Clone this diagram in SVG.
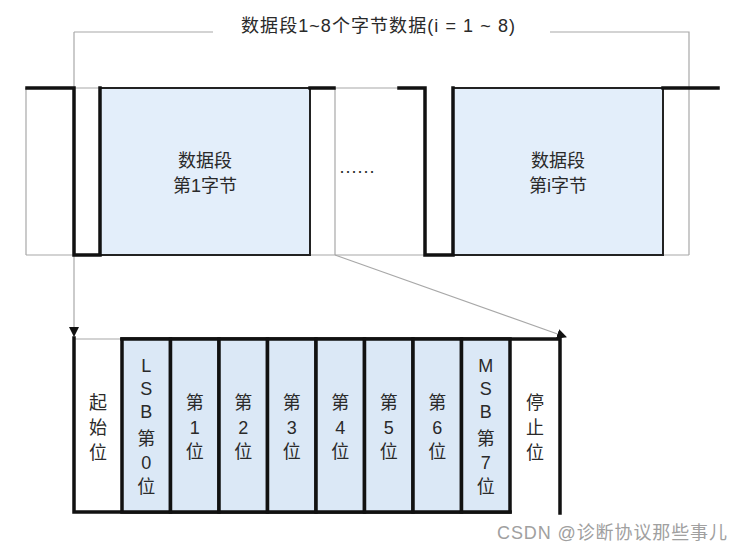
<svg xmlns="http://www.w3.org/2000/svg" width="743" height="552" viewBox="0 0 743 552">
<defs>
<style>
.t{font-family:"Liberation Sans","Noto Sans CJK SC",sans-serif;fill:#2a2a2a;text-anchor:middle;font-size:18px}
.g{fill:none;stroke:#a8a8a8;stroke-width:1.2}
.sig{fill:none;stroke:#111;stroke-width:3.5;stroke-linejoin:miter;stroke-linecap:square}
.box{fill:#e3eefa;stroke:#222;stroke-width:2}
.cell{fill:#dbe8f6;stroke:#111;stroke-width:3.5}
</style>
<marker id="ah" viewBox="0 0 10 10" refX="9" refY="5" markerWidth="10" markerHeight="10" markerUnits="userSpaceOnUse" orient="auto">
<path d="M0,0 L10,5 L0,10 Z" fill="#111"/>
</marker>
</defs>
<rect width="743" height="552" fill="#fff"/>

<g id="connectors">
<path class="g" d="M74,32 H213 M550,32 H689 V255"/>
<path class="g" d="M26,88 H398 M26,88 V255 M26,255 H689 M335,88 V255"/>
<path class="g" d="M74,32 V336" marker-end="url(#ah)"/>
<path class="g" d="M335,255 L566,337" marker-end="url(#ah)"/>
<path class="g" d="M74,339 H122"/>
</g>

<g id="title">
<text class="t" x="378" y="32" font-size="18.5" textLength="274" lengthAdjust="spacing">数据段1~8个字节数据(i = 1 ~ 8)</text>
</g>

<g id="byte1">
<rect class="box" x="100" y="88" width="210" height="167"/>
<path class="sig" d="M27,88 H74 V255 H100 V88"/>
<path class="sig" d="M310,88 H334"/>
<text class="t" x="205" y="166.5">数据段</text>
<text class="t" x="205" y="191.5">第1字节</text>
</g>

<g id="dots">
<text class="t" x="357" y="173" font-size="17" textLength="35" lengthAdjust="spacing">......</text>
</g>

<g id="bytei">
<rect class="box" x="453" y="88" width="210" height="167"/>
<path class="sig" d="M399,88 H425 V255 H453 V88"/>
<path class="sig" d="M663,88 H718"/>
<text class="t" x="558" y="166.5">数据段</text>
<text class="t" x="558" y="191.5">第i字节</text>
</g>

<g id="frame">
<path class="sig" d="M74,338 V512 H510"/>
<path class="sig" d="M122,339 H560 V513"/>
</g>

<g id="start-bit">
<text class="t" x="98" y="408.5">起</text>
<text class="t" x="98" y="433.5">始</text>
<text class="t" x="98" y="458.5">位</text>
</g>

<g id="bit0">
<rect class="cell" x="122" y="339" width="48.5" height="173"/>
<text class="t" x="146.3" y="371.5">L</text>
<text class="t" x="146.3" y="394.5">S</text>
<text class="t" x="146.3" y="417.5">B</text>
<text class="t" x="146.3" y="444.5">第</text>
<text class="t" x="146.3" y="468.5">0</text>
<text class="t" x="146.3" y="492.5">位</text>
</g>

<g id="bit1">
<rect class="cell" x="170.5" y="339" width="48.5" height="173"/>
<text class="t" x="194.8" y="408.5">第</text>
<text class="t" x="194.8" y="433.5">1</text>
<text class="t" x="194.8" y="457.5">位</text>
</g>

<g id="bit2">
<rect class="cell" x="219" y="339" width="48.5" height="173"/>
<text class="t" x="243.3" y="408.5">第</text>
<text class="t" x="243.3" y="433.5">2</text>
<text class="t" x="243.3" y="457.5">位</text>
</g>

<g id="bit3">
<rect class="cell" x="267.5" y="339" width="48.5" height="173"/>
<text class="t" x="291.8" y="408.5">第</text>
<text class="t" x="291.8" y="433.5">3</text>
<text class="t" x="291.8" y="457.5">位</text>
</g>

<g id="bit4">
<rect class="cell" x="316" y="339" width="48.5" height="173"/>
<text class="t" x="340.3" y="408.5">第</text>
<text class="t" x="340.3" y="433.5">4</text>
<text class="t" x="340.3" y="457.5">位</text>
</g>

<g id="bit5">
<rect class="cell" x="364.5" y="339" width="48.5" height="173"/>
<text class="t" x="388.8" y="408.5">第</text>
<text class="t" x="388.8" y="433.5">5</text>
<text class="t" x="388.8" y="457.5">位</text>
</g>

<g id="bit6">
<rect class="cell" x="413" y="339" width="48.5" height="173"/>
<text class="t" x="437.3" y="408.5">第</text>
<text class="t" x="437.3" y="433.5">6</text>
<text class="t" x="437.3" y="457.5">位</text>
</g>

<g id="bit7">
<rect class="cell" x="461.5" y="339" width="48.5" height="173"/>
<text class="t" x="485.8" y="371.5">M</text>
<text class="t" x="485.8" y="394.5">S</text>
<text class="t" x="485.8" y="417.5">B</text>
<text class="t" x="485.8" y="444.5">第</text>
<text class="t" x="485.8" y="468.5">7</text>
<text class="t" x="485.8" y="492.5">位</text>
</g>

<g id="stop-bit">
<text class="t" x="535" y="408.5">停</text>
<text class="t" x="535" y="433.5">止</text>
<text class="t" x="535" y="458.5">位</text>
</g>

<g id="watermark">
<text class="t" x="612" y="539" font-size="20" style="fill:#a0a0a0" textLength="230" lengthAdjust="spacing">CSDN @诊断协议那些事儿</text>
</g>
</svg>
